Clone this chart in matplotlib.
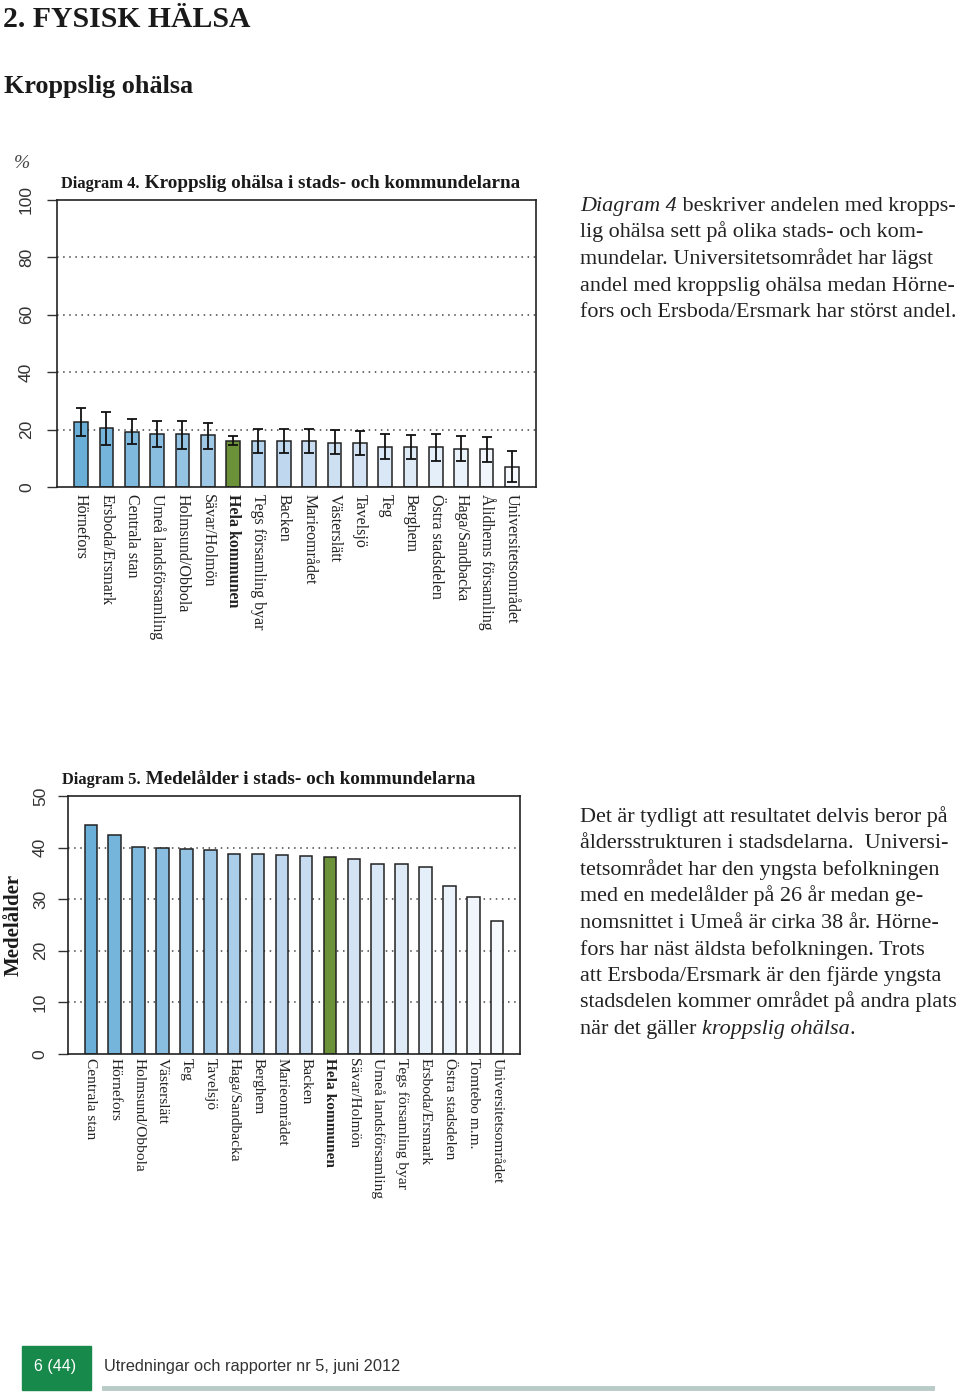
import matplotlib
matplotlib.use("Agg")
import matplotlib.pyplot as plt
from matplotlib.colors import LinearSegmentedColormap
import numpy as np

# Diagram 4 data: share (%) with confidence intervals
omr4 = ["Hörnefors", "Ersboda/Ersmark", "Centrala stan", "Umeå landsförsamling",
        "Holmsund/Obbola", "Sävar/Holmön", "Hela kommunen", "Tegs församling byar",
        "Backen", "Marieområdet", "Västerslätt", "Tavelsjö", "Teg", "Berghem",
        "Östra stadsdelen", "Haga/Sandbacka", "Ålidhems församling", "Universitetsområdet"]
andel4 = [22.8, 20.5, 19.3, 18.4, 18.4, 18.0, 16.1, 16.1, 16.0, 16.0, 15.5, 15.3,
          13.9, 13.9, 13.8, 13.3, 13.1, 6.9]
ci_hog4 = [27.7, 26.2, 23.7, 22.9, 22.9, 22.4, 17.6, 20.3, 20.2, 20.1, 19.7, 19.4,
           18.3, 18.0, 18.5, 17.8, 17.5, 12.4]
ci_lag4 = [17.7, 14.7, 14.9, 13.8, 13.4, 13.3, 14.8, 11.9, 11.7, 11.7, 11.4, 11.1,
           9.6, 9.8, 9.1, 8.9, 8.8, 1.7]

# Diagram 5 data: mean age
omr5 = ["Centrala stan", "Hörnefors", "Holmsund/Obbola", "Västerslätt", "Teg", "Tavelsjö",
        "Haga/Sandbacka", "Berghem", "Marieområdet", "Backen", "Hela kommunen",
        "Sävar/Holmön", "Umeå landsförsamling", "Tegs församling byar", "Ersboda/Ersmark",
        "Östra stadsdelen", "Tomtebo m.m.", "Universitetsområdet"]
alder5 = [44.3, 42.5, 40.1, 39.9, 39.7, 39.5, 38.8, 38.8, 38.6, 38.4, 38.1, 37.8,
          36.9, 36.8, 36.2, 32.6, 30.5, 25.7]

HELA = "Hela kommunen"
GREEN = "#6b9139"
blues = LinearSegmentedColormap.from_list("b", ["#6aafd8", "#c4daf0", "#f6fafe"])

SERIF = ["Liberation Serif", "DejaVu Serif"]
SANS = ["Liberation Sans", "DejaVu Sans"]

W, H = 960, 1393
fig = plt.figure(figsize=(W / 100, H / 100), dpi=100)


def px_axes(l, t, r, b):
    return fig.add_axes([l / W, 1 - b / H, (r - l) / W, (b - t) / H])


def bar_colors(names):
    n = len(names)
    return [GREEN if nm == HELA else blues(i / (n - 1)) for i, nm in enumerate(names)]


def style_axes(ax, names, ymax, step, ypad, xfs, xpad):
    n = len(names)
    ax.set_xlim(-0.95, n - 1 + 0.95)
    ax.set_ylim(0, ymax)
    ax.set_yticks(np.arange(0, ymax + 1, step))
    for y in np.arange(step, ymax, step):
        ax.axhline(y, color="#444444", lw=1.1, ls=(0, (1, 3)), zorder=0)
    ax.set_xticks(range(n))
    ax.set_xticklabels(names, rotation=-90, family=SERIF, fontsize=xfs, va="top",
                       ha="center", color="#222222")
    for lab in ax.get_xticklabels():
        if lab.get_text() == HELA:
            lab.set_fontweight("bold")
    ax.tick_params(axis="x", length=0, pad=xpad)
    ax.tick_params(axis="y", length=7.5, width=1, pad=ypad, labelsize=12.5,
                   color="#333333")
    for lab in ax.get_yticklabels():
        lab.set_rotation(90)
        lab.set_va("center")
        lab.set_family(SANS)
        lab.set_color("#333333")
    for s in ax.spines.values():
        s.set_linewidth(1.2)
        s.set_color("#222222")


def title(ax, small, big, x, y):
    t1 = fig.text(x / W, 1 - y / H, small, family=SERIF, fontweight="bold",
                  fontsize=11.9, va="baseline", color="#1a1a1a")
    ax.annotate(" " + big, xy=(1, 0), xycoords=t1, va="bottom", ha="left",
                family=SERIF, fontweight="bold", fontsize=13.8, color="#1a1a1a")


# header
fig.text(3 / W, 1 - 27 / H, "2. FYSISK HÄLSA", family=SERIF, fontweight="bold",
         fontsize=21.4, color="#1a1a1a")
fig.text(4 / W, 1 - 93 / H, "Kroppslig ohälsa", family=SERIF, fontweight="bold",
         fontsize=18.8, color="#1a1a1a")

# Diagram 4
ax1 = px_axes(57, 200, 536, 487)
x4 = np.arange(len(omr4))
a4 = np.array(andel4)
ax1.bar(x4, a4, width=0.54, color=bar_colors(omr4), edgecolor="#222222",
        linewidth=1.1, zorder=2)
ax1.errorbar(x4, a4, yerr=[a4 - np.array(ci_lag4), np.array(ci_hog4) - a4],
             fmt="none", ecolor="#111111", elinewidth=1.3, capsize=3.7, capthick=1.3,
             zorder=3)
style_axes(ax1, omr4, 100, 20, 9, 11.5, 5)
fig.text(14 / W, 1 - 168 / H, "%", family=SERIF, style="italic", fontsize=14,
         color="#444444")
title(ax1, "Diagram 4.", "Kroppslig ohälsa i stads- och kommundelarna", 61, 188)

# Diagram 5
ax2 = px_axes(68, 796, 520, 1054)
x5 = np.arange(len(omr5))
ax2.bar(x5, alder5, width=0.52, color=bar_colors(omr5), edgecolor="#222222",
        linewidth=1.1, zorder=2)
style_axes(ax2, omr5, 50, 10, 7, 11.1, 3)
ax2.set_ylabel("Medelålder", family=SERIF, fontweight="bold", fontsize=15,
               labelpad=7, color="#1a1a1a")
title(ax2, "Diagram 5.", "Medelålder i stads- och kommundelarna", 62, 784)

# right column text
FS = 15.9
TXT = dict(family=SERIF, fontsize=FS, color="#222222", va="baseline")
LH = 26.5
p1 = ["beskriver andelen med kropps-",
      "lig ohälsa sett på olika stads- och kom-",
      "mundelar. Universitetsområdet har lägst",
      "andel med kroppslig ohälsa medan Hörne-",
      "fors och Ersboda/Ersmark har störst andel."]
y0 = 211
t = fig.text(580 / W, 1 - y0 / H, "Diagram 4", style="italic", **TXT)
ax1.annotate(" " + p1[0], xy=(1, 0), xycoords=t, ha="left", va="bottom",
             family=SERIF, fontsize=FS, color="#222222")
for i, line in enumerate(p1[1:], 1):
    fig.text(580 / W, 1 - (y0 + i * LH) / H, line, **TXT)

p2 = ["Det är tydligt att resultatet delvis beror på",
      "åldersstrukturen i stadsdelarna.  Universi-",
      "tetsområdet har den yngsta befolkningen",
      "med en medelålder på 26 år medan ge-",
      "nomsnittet i Umeå är cirka 38 år. Hörne-",
      "fors har näst äldsta befolkningen. Trots",
      "att Ersboda/Ersmark är den fjärde yngsta",
      "stadsdelen kommer området på andra plats"]
y0 = 822
for i, line in enumerate(p2):
    fig.text(580 / W, 1 - (y0 + i * LH) / H, line, **TXT)
t = fig.text(580 / W, 1 - (y0 + 8 * LH) / H, "när det gäller ", **TXT)
t2 = ax2.annotate("kroppslig ohälsa", xy=(1, 0), xycoords=t, ha="left", va="bottom",
                  family=SERIF, fontsize=FS, style="italic", color="#222222")
ax2.annotate(".", xy=(1, 0), xycoords=t2, ha="left", va="bottom",
             family=SERIF, fontsize=FS, color="#222222")

# footer
fig.patches.append(plt.Rectangle((22 / W, 1 - 1390 / H), 69 / W, 44 / H,
                                 transform=fig.transFigure, color="#17894a"))
fig.text(55 / W, 1 - 1366 / H, "6 (44)", family=SANS, fontsize=11.5, color="white",
         ha="center", va="center")
fig.text(104 / W, 1 - 1366 / H, "Utredningar och rapporter nr 5, juni 2012",
         family=SANS, fontsize=11.8, color="#333333", va="center")
fig.add_artist(plt.Line2D([104 / W, 932 / W], [1 - 1388 / H, 1 - 1388 / H],
                          color="#b9cbc6", lw=3.5))

fig.savefig("out.png", dpi=100)
